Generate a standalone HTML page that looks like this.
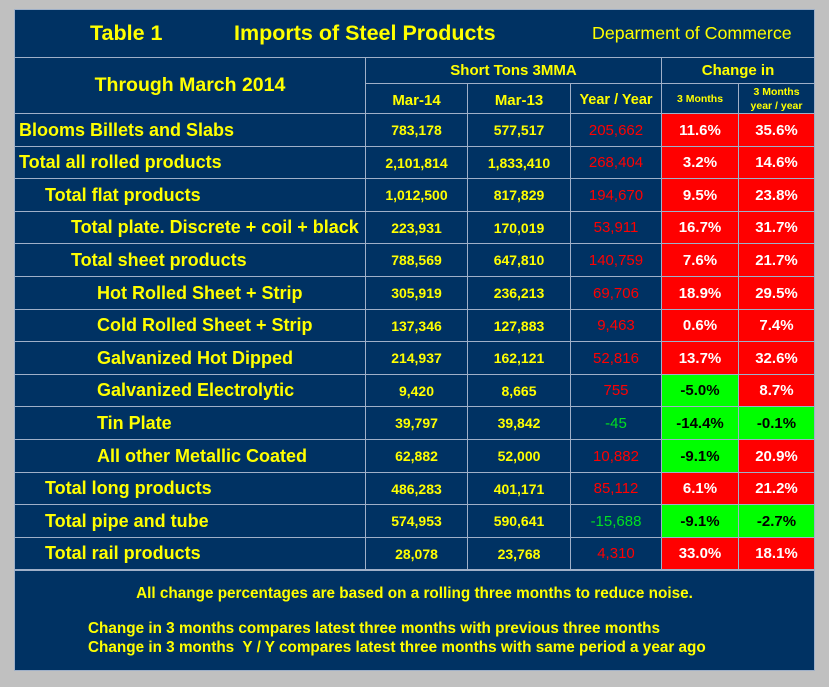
<!DOCTYPE html>
<html><head><meta charset="utf-8"><style>
body{margin:0;width:829px;height:687px;background:#c0c0c0;position:relative;overflow:hidden;font-family:"Liberation Sans",Arial,sans-serif;font-weight:bold}
.p{position:absolute;background:#003263;box-sizing:border-box}
.c{position:absolute;box-sizing:border-box;border:1px solid #9fb0c8;display:flex;align-items:center;justify-content:center;color:#ffff00;white-space:nowrap}
.n{font-family:"Liberation Sans Narrow","Liberation Sans",sans-serif}
.t{position:absolute;color:#ffff00;white-space:nowrap}
</style></head><body>
<div class="p" style="left:14px;top:9px;width:801px;height:662px;border:1px solid #9fb0c8"></div>
<div class="t n" style="left:90px;top:21px;font-size:21.5px">Table 1</div>
<div class="t n" style="left:234px;top:21px;font-size:21.5px">Imports of Steel Products</div>
<div class="t n" style="left:592px;top:23px;font-size:17.8px;font-weight:normal">Deparment of Commerce</div>
<div class="c n" style="left:14px;top:57px;width:352px;height:57px;font-size:19.5px">Through March 2014</div>
<div class="c n" style="left:365px;top:57px;width:297px;height:27px;font-size:15px">Short Tons 3MMA</div>
<div class="c n" style="left:661px;top:57px;width:154px;height:27px;font-size:15px">Change in</div>
<div class="c n" style="left:365px;top:83px;width:103px;height:31px;font-size:15px;padding-top:3px">Mar-14</div>
<div class="c n" style="left:467px;top:83px;width:104px;height:31px;font-size:15px;padding-top:3px">Mar-13</div>
<div class="c n" style="left:570px;top:83px;width:92px;height:31px;font-size:14.5px;padding-top:3px">Year / Year</div>
<div class="c n" style="left:661px;top:83px;width:78px;height:31px;font-size:10.5px">3 Months</div>
<div class="c n" style="left:738px;top:83px;width:77px;height:31px;font-size:10.5px;line-height:14px;text-align:center;white-space:normal">3 Months<br>year / year</div>
<div class="c" style="left:14px;top:570px;width:801px;height:101px;display:block"></div>
<div class="t n" style="left:0;width:829px;text-align:center;top:585px;font-size:15.3px">All change percentages are based on a rolling three months to reduce noise.</div>
<div class="t n" style="left:88px;top:620px;font-size:15.3px">Change in 3 months compares latest three months with previous three months</div>
<div class="t n" style="left:88px;top:639px;font-size:15.3px">Change in 3 months&nbsp; Y / Y compares latest three months with same period a year ago</div>
<script>
const labels=["Blooms Billets and Slabs","Total all rolled products","Total flat products","Total plate. Discrete + coil + black","Total sheet products","Hot Rolled Sheet + Strip","Cold Rolled Sheet + Strip","Galvanized Hot Dipped","Galvanized Electrolytic","Tin Plate","All other Metallic Coated","Total long products","Total pipe and tube","Total rail products"];
const levels=[0,0,1,2,2,3,3,3,3,3,3,1,1,1];
const mar14=["783,178","2,101,814","1,012,500","223,931","788,569","305,919","137,346","214,937","9,420","39,797","62,882","486,283","574,953","28,078"];
const mar13=["577,517","1,833,410","817,829","170,019","647,810","236,213","127,883","162,121","8,665","39,842","52,000","401,171","590,641","23,768"];
const yoy=["205,662","268,404","194,670","53,911","140,759","69,706","9,463","52,816","755","-45","10,882","85,112","-15,688","4,310"];
const ch3=["11.6%","3.2%","9.5%","16.7%","7.6%","18.9%","0.6%","13.7%","-5.0%","-14.4%","-9.1%","6.1%","-9.1%","33.0%"];
const ch3yy=["35.6%","14.6%","23.8%","31.7%","21.7%","29.5%","7.4%","32.6%","8.7%","-0.1%","20.9%","21.2%","-2.7%","18.1%"];
const top0=113,rh=32.6;
function cell(x,y,w,h,txt,st){const d=document.createElement('div');d.className='c';d.textContent=txt;d.style.cssText=`left:${x}px;top:${y}px;width:${w}px;height:${h}px;`+st;document.body.appendChild(d);return d;}
labels.forEach((l,i)=>{
 const y=Math.round(top0+i*rh),h=Math.round(top0+(i+1)*rh)-y+1;
 let d=cell(14,y,352,h,l,`justify-content:flex-start;padding-left:${4+levels[i]*26}px;font-size:18px`);
 
 
 d=cell(365,y,103,h,mar14[i],'font-size:14px');
 
 
 d=cell(467,y,104,h,mar13[i],'font-size:14px');
 
 
 const neg=yoy[i].startsWith('-');
 d=cell(570,y,92,h,yoy[i],'font-size:15px;font-weight:normal;color:'+(neg?'#00e020':'#ff0000'));
 
 
 const n3=ch3[i].startsWith('-');
 d=cell(661,y,78,h,ch3[i],'font-size:15px;background:'+(n3?'#00ff00;color:#000':'#ff0000;color:#fff'));
 
 
 const ny=ch3yy[i].startsWith('-');
 d=cell(738,y,77,h,ch3yy[i],'font-size:15px;background:'+(ny?'#00ff00;color:#000':'#ff0000;color:#fff'));
 
 
});
</script>
</body></html>
